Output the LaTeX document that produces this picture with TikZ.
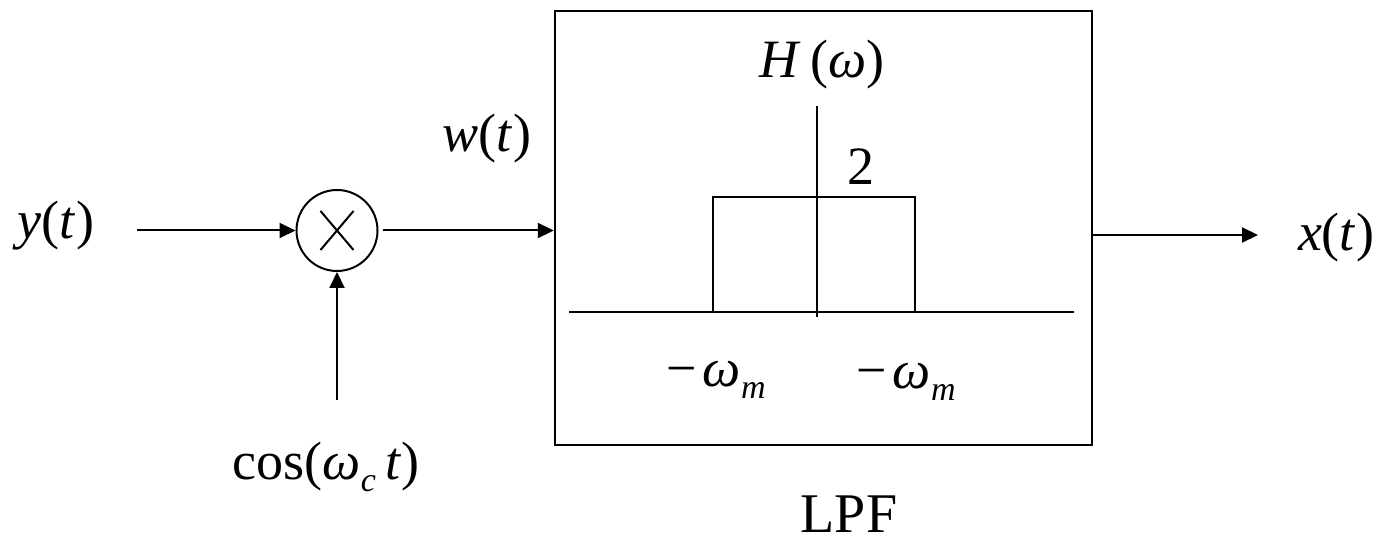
\documentclass[tikz,border=0pt]{standalone}
\usepackage{fontspec}
\setmainfont{Liberation Serif}
\usetikzlibrary{arrows.meta}
\newcommand{\om}{\textit{ω}}
\newcommand{\subsc}[1]{\raisebox{-0.5ex}{\fontsize{17}{17}\selectfont\itshape #1}}

\begin{document}
\begin{tikzpicture}[x=0.5pt,y=-0.5pt,
  font=\fontsize{27}{31}\selectfont,
  line width=1pt,
  lbl/.style={inner sep=0pt},
  mult/.style={draw,circle,minimum size=40.5pt,inner sep=0pt},
  filt/.style={draw,line width=1.2pt,minimum width=268.5pt,minimum height=217pt,inner sep=0pt},
  ar/.style={-{Triangle[length=8pt,width=7.5pt]}}
]
\useasboundingbox (0,0) rectangle (1386,544);
% blocks
\node[mult] (mul) at (337,230.5) {};
\draw (mul.center) ++(-16.5,-19.5) -- ++(33,39);
\draw (mul.center) ++(16.5,-19.5) -- ++(-33,39);
\node[filt] (lpf) at (823.5,228) {};
% labels
\node[lbl] (yl) at (56,226) {\textit{y}(\textit{t})};
\node[lbl] (wl) at (487,139) {\textit{w}(\textit{t})};
\node[lbl] (cl) at (326,467) {cos(\om\subsc{c}\,\textit{t})};
\node[lbl] (xl) at (1336,238) {\textit{x}(\textit{t})};
\node[lbl,font=\fontsize{28}{32}\selectfont] (ll) at (849,514) {LPF};
% frequency response inside the filter
\node[lbl] (hl) at (822,65) {\textit{H}\,(\om)};
\node[lbl] (two) at (861,167) {2};
\node[lbl] (wm1) at (716,380) {−\kern3pt\om\subsc{m}};
\node[lbl] (wm2) at (906,382) {−\kern3pt\om\subsc{m}};
\draw (569,312) -- (1074,312);
\draw (817,106) -- (817,317);
\draw (713,312) -- (713,197) -- (915,197) -- (915,312);
% connectors
\coordinate (yin) at (137,230.5);
\coordinate (cin) at (337,400);
\coordinate (xo) at (1258,235);
\draw[ar] (yin) -- (mul.west);
\draw[ar] (cin) -- (mul.south);
\draw[ar] (mul.east) ++(4,0) -- (mul.east -| lpf.west);
\draw[ar] (lpf.east |- xo) -- (xo);
\end{tikzpicture}
\end{document}
